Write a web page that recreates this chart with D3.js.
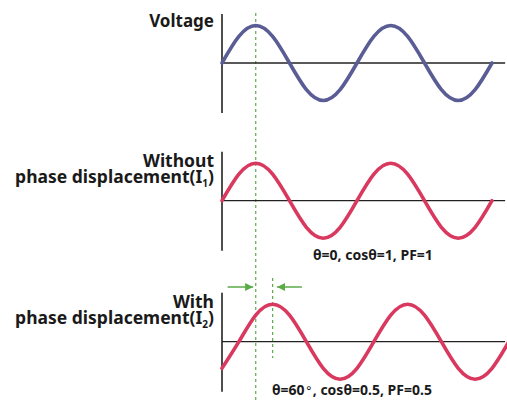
<!DOCTYPE html>
<html><head><meta charset="utf-8">
<script src="https://cdn.jsdelivr.net/npm/d3@7"></script>
<style>
html,body{margin:0;padding:0;background:#fff;}
text{font-family:"Noto Sans",sans-serif;fill:#1a1a1a;}
</style></head>
<body><svg id="c" width="507" height="400"></svg>
<script>
// Phase angle samples (degrees) and normalised amplitudes
const angles = [0,45,90,135,180,225,270,315,360,405,450,495,540,585,630,675,720];
const voltage = [0,0.71,1,0.71,0,-0.71,-1,-0.71,0,0.71,1,0.71,0,-0.71,-1,-0.71,0];
const current1 = [0,0.71,1,0.71,0,-0.71,-1,-0.71,0,0.71,1,0.71,0,-0.71,-1,-0.71,0];
const angles2 = [0,45,90,135,180,225,270,315,360,405,450,495,540,585,630,675,720,765];
const current2 = [-0.71,0,0.71,1,0.71,0,-0.71,-1,-0.71,0,0.71,1,0.71,0,-0.71,-1,-0.71,0];
const panelTitles = [["Voltage"],["Without","phase displacement(I","1",")"],["With","phase displacement(I","2",")"]];
const notes = [[], ["θ=0, cosθ=1, PF=1"], ["θ=60", "°", ", cosθ=0.5, PF=0.5"]];
const peakAngle = 90, shiftedPeakAngle = 135;

const svg = d3.select("#c");
const x = d3.scaleLinear().domain([0,720]).range([222,492]);
const centers = [63, 200.7, 341.7];
const amp = 37.5;
const colors = ["#5a5c95","#d9385f","#d9385f"];
const series = [
  angles.map((a,i)=>({a, v:voltage[i]})),
  angles.map((a,i)=>({a, v:current1[i]})),
  angles2.map((a,i)=>({a, v:current2[i]}))
];

// green dashed reference lines
const green = "#5aaa47";
svg.append("line").attr("x1",x(peakAngle)).attr("x2",x(peakAngle)).attr("y1",13).attr("y2",400)
  .attr("stroke",green).attr("stroke-width",1.2).attr("stroke-dasharray","3,3");
svg.append("line").attr("x1",x(shiftedPeakAngle)).attr("x2",x(shiftedPeakAngle)).attr("y1",278).attr("y2",358)
  .attr("stroke",green).attr("stroke-width",1.2).attr("stroke-dasharray","3,3");

series.forEach((d,i)=>{
  const y = d3.scaleLinear().domain([-1,1]).range([centers[i]+amp, centers[i]-amp]);
  const g = svg.append("g");
  // axes
  g.append("line").attr("x1",x(0)).attr("x2",x(755)).attr("y1",y(0)).attr("y2",y(0))
    .attr("stroke","#222").attr("stroke-width",1.3);
  g.append("line").attr("x1",x(0)).attr("x2",x(0)).attr("y1",y(0)-49).attr("y2",y(0)+50)
    .attr("stroke","#222").attr("stroke-width",1.6);
  // wave
  g.append("path").datum(d)
    .attr("d", d3.line().x(p=>x(p.a)).y(p=>y(p.v)).curve(d3.curveNatural))
    .attr("fill","none").attr("stroke",colors[i]).attr("stroke-width",3.6).attr("stroke-linecap","round");
  // titles
  const t = panelTitles[i];
  const tx = 214;
  const fs = 17.5;
  if (t.length===1){
    g.append("text").attr("x",tx).attr("y",y(0)-36).attr("text-anchor","end")
      .attr("font-size",17).attr("font-weight",700).text(t[0]);
  } else {
    g.append("text").attr("x",tx).attr("y",y(0)-34).attr("text-anchor","end")
      .attr("font-size",fs).attr("font-weight",700).text(t[0]);
    const tt = g.append("text").attr("x",tx).attr("y",y(0)-17.5).attr("text-anchor","end")
      .attr("font-size",fs).attr("font-weight",700);
    tt.append("tspan").text(t[1]);
    tt.append("tspan").attr("font-size",10).attr("dy",4).text(t[2]);
    tt.append("tspan").attr("dy",-4).text(t[3]);
  }
  const n = notes[i];
  if (n.length){
    const nt = g.append("text").attr("x",i===1?313:272).attr("y",y(0)+(i===1?59:53))
      .attr("font-size",14).attr("font-weight",700);
    if (n.length===1) nt.text(n[0]);
    else {
      nt.append("tspan").text(n[0]);
      nt.append("tspan").attr("dx",1.5).attr("font-weight",400).attr("font-size",12).text(n[1]);
      nt.append("tspan").attr("dx",1.5).text(n[2]);
    }
  }
});

// arrows
const defs = svg.append("defs");
defs.append("marker").attr("id","ah").attr("viewBox","0 0 10 10").attr("refX",10).attr("refY",5)
  .attr("markerWidth",8).attr("markerHeight",8).attr("markerUnits","userSpaceOnUse").attr("orient","auto")
  .append("path").attr("d","M0,0L10,5L0,10Z").attr("fill",green);
const ay = 287;
svg.append("line").attr("x1",x(15)).attr("x2",x(83)).attr("y1",ay).attr("y2",ay)
  .attr("stroke",green).attr("stroke-width",1.5).attr("marker-end","url(#ah)");
svg.append("line").attr("x1",x(213)).attr("x2",x(147)).attr("y1",ay).attr("y2",ay)
  .attr("stroke",green).attr("stroke-width",1.5).attr("marker-end","url(#ah)");
</script></body></html>
